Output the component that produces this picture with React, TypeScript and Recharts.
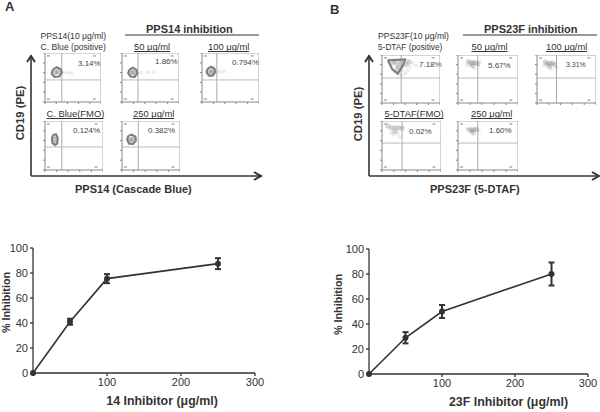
import React from "react"
import { ErrorBar, Label, Line, LineChart, ReferenceLine, Scatter, ScatterChart, XAxis, YAxis } from "recharts"

const FONT = "'Liberation Sans', Arial, sans-serif"
const INK = "#333"

// dose response values
const doses14 = [0, 50, 100, 250]
const inhibition14 = [0, 41, 75.5, 87.5]
const error14 = [0, 2.4, 3.6, 4.4]
const doses23 = [0, 50, 100, 250]
const inhibition23 = [0, 29, 50, 80]
const error23 = [0, 4.5, 5.2, 9.2]
const xTicks = [0, 100, 200, 300]
const yTicks = [0, 20, 40, 60, 80, 100]

// flow plot contours and clouds, in percent of the plot box
const ringA1 = [{ x: 14, y: 66 }, { x: 21, y: 71 }, { x: 28, y: 67 }, { x: 30, y: 60 }, { x: 25, y: 52 }, { x: 17, y: 51 }, { x: 12, y: 58 }, { x: 14, y: 66 }]
const ringA2 = [{ x: 13, y: 66 }, { x: 19, y: 70 }, { x: 25, y: 66 }, { x: 27, y: 59 }, { x: 22, y: 51 }, { x: 15, y: 52 }, { x: 11, y: 59 }, { x: 13, y: 66 }]
const ringA3 = [{ x: 10, y: 68 }, { x: 16, y: 72 }, { x: 22, y: 68 }, { x: 23, y: 61 }, { x: 19, y: 54 }, { x: 12, y: 54 }, { x: 8, y: 61 }, { x: 10, y: 68 }]
const ringA4 = [{ x: 14, y: 72 }, { x: 19, y: 73 }, { x: 22, y: 65 }, { x: 21, y: 54 }, { x: 17, y: 51 }, { x: 13, y: 55 }, { x: 12, y: 64 }, { x: 14, y: 72 }]
const ringA5 = [{ x: 11, y: 70 }, { x: 17, y: 72 }, { x: 23, y: 68 }, { x: 24, y: 60 }, { x: 19, y: 53 }, { x: 12, y: 54 }, { x: 9, y: 62 }, { x: 11, y: 70 }]
const ringB1 = [{ x: 10, y: 89 }, { x: 26, y: 90 }, { x: 40, y: 91 }, { x: 36, y: 78 }, { x: 27, y: 61 }, { x: 18, y: 70 }, { x: 10, y: 89 }]

const cloudA1 = [{ x: 21, y: 61 }, { x: 18, y: 60 }, { x: 24, y: 62 }]
const cloudA2 = [{ x: 19, y: 60 }, { x: 16, y: 60 }, { x: 22, y: 61 }]
const cloudA3 = [{ x: 16, y: 62 }, { x: 14, y: 60 }, { x: 19, y: 63 }]
const cloudA4 = [{ x: 17, y: 68 }, { x: 17, y: 62 }, { x: 17, y: 56 }]
const cloudA5 = [{ x: 16, y: 62 }, { x: 14, y: 61 }, { x: 19, y: 63 }]
const cloudB1 = [{ x: 18, y: 84 }, { x: 26, y: 80 }, { x: 32, y: 85 }, { x: 26, y: 70 }, { x: 22, y: 87 }, { x: 30, y: 75 }, { x: 42, y: 80 }, { x: 46, y: 86 }]
const cloudB2 = [{ x: 25, y: 84 }, { x: 21, y: 83 }, { x: 29, y: 84 }, { x: 24, y: 78 }, { x: 17, y: 86 }, { x: 33, y: 81 }]
const cloudB3 = [{ x: 22, y: 82 }, { x: 18, y: 82 }, { x: 26, y: 83 }, { x: 21, y: 76 }, { x: 30, y: 80 }, { x: 14, y: 85 }]
const cloudB4 = [{ x: 22, y: 86 }, { x: 16, y: 86 }, { x: 28, y: 86 }, { x: 34, y: 85 }, { x: 22, y: 79 }, { x: 10, y: 90 }]
const cloudB5 = [{ x: 23, y: 82 }, { x: 19, y: 82 }, { x: 27, y: 82 }, { x: 31, y: 83 }, { x: 24, y: 77 }]

const tailA1 = [{ x: 33, y: 60 }, { x: 40, y: 60 }, { x: 47, y: 58 }]
const tailA2 = [{ x: 34, y: 60 }, { x: 45, y: 60 }, { x: 55, y: 60 }]
const tailA3 = [{ x: 30, y: 62 }, { x: 38, y: 62 }]
const tailB1 = [{ x: 48, y: 76 }, { x: 52, y: 84 }, { x: 58, y: 78 }, { x: 35, y: 68 }, { x: 30, y: 60 }, { x: 12, y: 90 }, { x: 44, y: 68 }, { x: 40, y: 62 }, { x: 34, y: 56 }]
const tailB2 = [{ x: 27, y: 73 }, { x: 15, y: 78 }, { x: 37, y: 86 }]
const tailB3 = [{ x: 24, y: 71 }, { x: 33, y: 74 }, { x: 12, y: 78 }]
const tailB4 = [{ x: 27, y: 75 }, { x: 20, y: 72 }, { x: 16, y: 76 }, { x: 30, y: 68 }]
const tailB5 = [{ x: 15, y: 84 }, { x: 27, y: 73 }, { x: 35, y: 80 }]

const cornerMarks = [{ x: 6, y: 94 }, { x: 6, y: 6 }, { x: 88, y: 94 }, { x: 88, y: 6 }]
const boxTicks = [0, 20, 40, 60, 80, 100]

const panels = [
  { left: 45, top: 53, w: 56, h: 49, gateX: 30, gateY: 45, ring: ringA1, cloud: cloudA1, tail: tailA1 },
  { left: 122, top: 53, w: 57, h: 49, gateX: 28, gateY: 45, ring: ringA2, cloud: cloudA2, tail: tailA2 },
  { left: 202, top: 53, w: 57, h: 49, gateX: 26, gateY: 45, ring: ringA3, cloud: cloudA3, tail: tailA3 },
  { left: 45, top: 121, w: 58, h: 49, gateX: 29, gateY: 47, ring: ringA4, cloud: cloudA4, tail: [] },
  { left: 122, top: 121, w: 58, h: 49, gateX: 28, gateY: 47, ring: ringA5, cloud: cloudA5, tail: [] },
  { left: 382, top: 55, w: 58, h: 48, gateX: 33, gateY: 52, ring: ringB1, cloud: cloudB1, tail: tailB1 },
  { left: 458, top: 55, w: 60, h: 48, gateX: 33, gateY: 52, ring: [], cloud: cloudB2, tail: tailB2 },
  { left: 537, top: 55, w: 59, h: 48, gateX: 33, gateY: 52, ring: [], cloud: cloudB3, tail: tailB3 },
  { left: 382, top: 121, w: 59, h: 49, gateX: 34, gateY: 55, ring: [], cloud: cloudB4, tail: tailB4 },
  { left: 458, top: 121, w: 60, h: 49, gateX: 33, gateY: 55, ring: [], cloud: cloudB5, tail: tailB5 },
]

const titles = [
  { x: 5, y: 11, text: "A", size: 13, bold: true },
  { x: 330, y: 14, text: "B", size: 13, bold: true },
  { x: 146, y: 33, text: "PPS14 inhibition", size: 11, bold: true },
  { x: 484, y: 33, text: "PPS23F inhibition", size: 11, bold: true },
  { x: 40.5, y: 39, text: "PPS14(10 μg/ml)", size: 8.6 },
  { x: 40.5, y: 50, text: "C. Blue (positive)", size: 8.6 },
  { x: 378, y: 39, text: "PPS23F(10 μg/ml)", size: 8.6 },
  { x: 378, y: 50, text: "5-DTAF (positive)", size: 8.3 },
  { x: 75, y: 192.5, text: "PPS14 (Cascade Blue)", size: 11, bold: true },
  { x: 430, y: 192.5, text: "PPS23F (5-DTAF)", size: 11, bold: true },
]
const underlined = [
  { x: 134, y: 51, w: 36, text: "50 μg/ml" },
  { x: 208, y: 51, w: 41, text: "100 μg/ml" },
  { x: 46.5, y: 118, w: 57, text: "C. Blue(FMO)" },
  { x: 133, y: 118, w: 41, text: "250 μg/ml" },
  { x: 471.5, y: 51, w: 36, text: "50 μg/ml" },
  { x: 546, y: 51, w: 41, text: "100 μg/ml" },
  { x: 384.5, y: 118, w: 59, text: "5-DTAF(FMO)" },
  { x: 471, y: 118, w: 41, text: "250 μg/ml" },
]
const percents = [
  { x: 78, y: 66, text: "3.14%" },
  { x: 155, y: 64, text: "1.86%" },
  { x: 232, y: 65, text: "0.794%" },
  { x: 73, y: 133, text: "0.124%" },
  { x: 148, y: 133, text: "0.382%" },
  { x: 419, y: 67, text: "7.18%" },
  { x: 488, y: 68, text: "5.67%" },
  { x: 566, y: 67, text: "3.31%", size: 7 },
  { x: 409, y: 134, text: "0.02%" },
  { x: 489, y: 133, text: "1.60%" },
]

const rows = (doses: number[], values: number[], errors: number[]) =>
  doses.map((dose, i) => ({ dose, value: values[i], err: errors[i] }))

function Dot({ cx, cy }: any) {
  return <circle cx={cx} cy={cy} r={3} fill={INK} />
}

function Smudge({ cx, cy }: any) {
  return <circle cx={cx} cy={cy} r={2.6} fill="#777" fillOpacity={0.3} />
}

function Faint({ cx, cy }: any) {
  return <circle cx={cx} cy={cy} r={2} fill="#aaa" fillOpacity={0.22} />
}

function Nothing() {
  return <g />
}

function CornerDot({ cx, cy }: any) {
  return <rect x={cx - 1.5} y={cy - 0.6} width={3} height={1.2} fill="#999" />
}

function FlowPlot({ left, top, w, h, gateX, gateY, ring, cloud, tail }: any) {
  return (
    <div style={{ position: "absolute", left: left - 4, top }}>
      <ScatterChart width={w + 4} height={h + 4} margin={{ top: 0, right: 0, bottom: 0, left: 0 }}>
        <XAxis
          type="number"
          dataKey="x"
          domain={[0, 100]}
          ticks={boxTicks}
          height={4}
          tickSize={2}
          tickFormatter={() => ""}
          stroke="#888"
        />
        <YAxis
          type="number"
          dataKey="y"
          domain={[0, 100]}
          ticks={boxTicks}
          width={4}
          tickSize={2}
          tickFormatter={() => ""}
          stroke="#888"
        />
        <ReferenceLine x={100} stroke="#aaa" />
        <ReferenceLine y={100} stroke="#aaa" />
        <ReferenceLine x={gateX} stroke="#aaa" />
        <ReferenceLine y={gateY} stroke="#bbb" />
        <Scatter data={cornerMarks} shape={CornerDot} isAnimationActive={false} />
        <Scatter data={tail} shape={Faint} isAnimationActive={false} />
        <Scatter data={cloud} shape={Smudge} isAnimationActive={false} />
        {ring.length > 0 && (
          <Scatter
            data={ring}
            shape={Nothing}
            line={{ stroke: "#808080", strokeWidth: 2.2, strokeLinejoin: "round" }}
            lineType="joint"
            isAnimationActive={false}
          />
        )}
      </ScatterChart>
    </div>
  )
}

function Dose({ left, data, label, plotLeft, marginTop, marginBottom, marginRight, labelShift, yLabelOffset, yLabelShift }: any) {
  return (
    <div style={{ position: "absolute", left, top: 220 }}>
      <LineChart
        width={300}
        height={192}
        data={data}
        margin={{ top: marginTop, right: marginRight, bottom: marginBottom, left: 0 }}
        style={{ fontFamily: FONT }}
      >
        <XAxis
          type="number"
          dataKey="dose"
          domain={[0, 300]}
          ticks={xTicks}
          height={30}
          tickSize={3}
          tick={{ fontSize: 11, fill: INK }}
          tickFormatter={(v: number) => (v === 0 ? "" : String(v))}
          stroke={INK}
          strokeWidth={1.3}
        >
          <Label
            value={label}
            position="insideBottom"
            offset={-2}
            dx={labelShift}
            style={{ fontSize: 12.4, fontWeight: 700, fill: INK }}
          />
        </XAxis>
        <YAxis
          type="number"
          domain={[0, 100]}
          ticks={yTicks}
          width={plotLeft}
          tickSize={3}
          tick={{ fontSize: 11, fill: INK }}
          stroke={INK}
          strokeWidth={1.3}
        >
          <Label
            value="% Inhibition"
            angle={-90}
            position="insideLeft"
            offset={yLabelOffset}
            dy={yLabelShift}
            style={{ fontSize: 10.8, fontWeight: 700, fill: INK, textAnchor: "middle" }}
          />
        </YAxis>
        <Line
          dataKey="value"
          type="linear"
          stroke={INK}
          strokeWidth={1.6}
          dot={<Dot />}
          isAnimationActive={false}
        >
          <ErrorBar dataKey="err" direction="y" width={3} stroke={INK} strokeWidth={2} />
        </Line>
      </LineChart>
    </div>
  )
}

function Overlay() {
  const arrow = (x1: number, y1: number, x2: number, y2: number, head: string) => (
    <g stroke={INK} fill="none" strokeWidth={1.6}>
      <line x1={x1} y1={y1} x2={x2} y2={y2} />
      <polyline points={head} strokeWidth={2} />
    </g>
  )
  return (
    <svg width={600} height={412} style={{ position: "absolute", left: 0, top: 0, fontFamily: FONT }}>
      {titles.map((t) => (
        <text key={t.text} x={t.x} y={t.y} fontSize={t.size} fontWeight={t.bold ? 700 : 400} fill={INK}>
          {t.text}
        </text>
      ))}
      {underlined.map((t) => (
        <g key={t.x + t.text}>
          <text x={t.x} y={t.y - 1} fontSize={9.4} fill={INK}>
            {t.text}
          </text>
          <line x1={t.x} y1={t.y + 0.5} x2={t.x + t.w} y2={t.y + 0.5} stroke={INK} />
        </g>
      ))}
      {percents.map((t) => (
        <text key={t.x + t.text} x={t.x} y={t.y} fontSize={t.size ?? 8} fill="#444">
          {t.text}
        </text>
      ))}
      <line x1={125} y1={35} x2={259} y2={35} stroke={INK} strokeWidth={1.2} />
      <line x1={463} y1={35} x2={597} y2={35} stroke={INK} strokeWidth={1.2} />
      <text transform="translate(24,113) rotate(-90)" textAnchor="middle" fontSize={11.3} fontWeight={700} fill={INK}>
        CD19 (PE)
      </text>
      <text transform="translate(362,114) rotate(-90)" textAnchor="middle" fontSize={11.3} fontWeight={700} fill={INK}>
        CD19 (PE)
      </text>
      {arrow(31, 176, 31, 57, "27,62 31,56 35,62")}
      {arrow(31, 176, 260, 176, "254,172 261,176 254,180")}
      {arrow(369, 176, 369, 57, "365,62 369,56 373,62")}
      {arrow(369, 176, 598, 176, "592,172 599,176 592,180")}
    </svg>
  )
}

export default function App() {
  return (
    <div style={{ position: "absolute", left: 0, top: 0, width: 600, height: 412, background: "#fff", overflow: "hidden" }}>
      <Overlay />
      {panels.map((p) => (
        <FlowPlot key={`${p.left}-${p.top}`} {...p} />
      ))}
      <Dose
        left={0}
        data={rows(doses14, inhibition14, error14)}
        label="14 Inhibitor (μg/ml)"
        plotLeft={33}
        marginTop={28}
        marginBottom={9}
        marginRight={45}
        labelShift={18}
        yLabelOffset={6}
        yLabelShift={-8}
      />
      <Dose
        left={300}
        data={rows(doses23, inhibition23, error23)}
        label="23F Inhibitor (μg/ml)"
        plotLeft={69}
        marginTop={29}
        marginBottom={8}
        marginRight={12}
        labelShift={30}
        yLabelOffset={38}
        yLabelShift={-7}
      />
    </div>
  )
}
